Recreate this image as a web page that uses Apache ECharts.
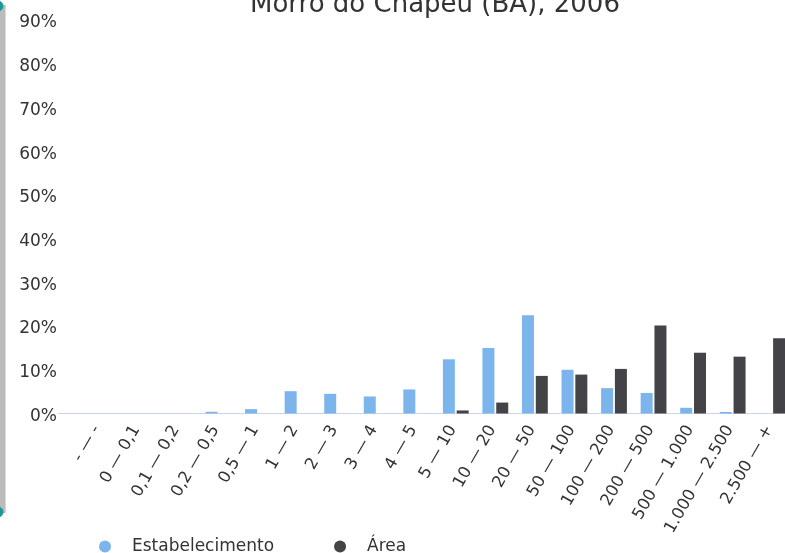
<!DOCTYPE html>
<html>
<head>
<meta charset="utf-8">
<script src="https://cdn.jsdelivr.net/npm/echarts@6/dist/echarts.min.js"></script>
<style>
    html, body { margin: 0; padding: 0; background: #fff; }
    #chart { width: 785px; height: 553px; }
</style>
</head>
<body>
<div id="chart"></div>
<script>
// faixas de area (ha)
const categories = ['- — -', '0 — 0,1', '0,1 — 0,2', '0,2 — 0,5', '0,5 — 1', '1 — 2', '2 — 3', '3 — 4', '4 — 5',
    '5 — 10', '10 — 20', '20 — 50', '50 — 100', '100 — 200', '200 — 500', '500 — 1.000', '1.000 — 2.500', '2.500 — +']

// percentuais
const estabelecimento = [0, 0, 0, 0.4, 1.0, 5.1, 4.5, 3.9, 5.5, 12.4, 15.0, 22.5, 10.0, 5.8, 4.7, 1.3, 0.35, 0]
const area = [0, 0, 0, 0, 0, 0, 0, 0, 0, 0.7, 2.5, 8.6, 8.9, 10.2, 20.1, 13.9, 13.0, 17.2]

const yTicks = { min: 0, max: 90, interval: 10 }

const font = 'DejaVu Sans'
const myChart = echarts.init(document.getElementById('chart'))

const option = {
    animation: false,
    title: {
        text: 'Morro do Chapéu (BA), 2006',
        left: 245,
        top: -13,
        textStyle: { fontFamily: font, fontSize: 26, fontWeight: 'normal', color: '#333' }
    },
    legend: {
        data: ['Estabelecimento', 'Área'],
        left: 94,
        top: 533,
        icon: 'circle',
        itemWidth: 44,
        itemHeight: 12,
        itemGap: 60,
        textStyle: { fontFamily: font, fontSize: 17, color: '#333' }
    },
    grid: [
        { left: 80, right: -7, top: 20, bottom: 139.5, outerBoundsMode: 'none' },
        { left: 58, right: -7, top: 20, bottom: 139.5, outerBoundsMode: 'none' }
    ],
    dataZoom: [{
        type: 'slider',
        yAxisIndex: 0,
        orient: 'vertical',
        left: -10,
        width: 15,
        top: 5,
        bottom: 40,
        filterMode: 'none',
        start: 0,
        end: 100,
        showDetail: false,
        showDataShadow: false,
        brushSelect: false,
        moveHandleSize: 0,
        handleIcon: 'circle',
        handleSize: 10,
        handleStyle: { color: '#1a9a96', borderColor: '#1a9a96' },
        backgroundColor: '#d4d4d4',
        fillerColor: 'rgba(150,150,150,0.4)',
        borderColor: 'transparent'
    }],
    xAxis: [
        {
            type: 'category',
            data: categories,
            axisLine: { show: false },
            axisTick: { show: false },
            axisLabel: {
                rotate: 60,
                margin: 8,
                interval: 0,
                padding: [0, 6, 0, 0],
                fontFamily: font,
                fontSize: 16.5,
                color: '#333'
            }
        },
        {
            // linha do eixo mais longa, como no original
            type: 'value',
            gridIndex: 1,
            axisLine: { show: true, onZero: false, lineStyle: { color: '#ccd6eb', width: 1 } },
            axisTick: { show: false },
            axisLabel: { show: false },
            splitLine: { show: false }
        }
    ],
    yAxis: [
        {
            type: 'value',
            min: yTicks.min,
            max: yTicks.max,
            interval: yTicks.interval,
            axisLine: { show: false },
            axisTick: { show: false },
            splitLine: { show: false },
            axisLabel: {
                formatter: '{v|{value}%}',
                margin: 23,
                rich: {
                    v: { padding: [6, 0, 0, 0], fontFamily: font, fontSize: 17, color: '#333' }
                }
            }
        },
        { type: 'value', gridIndex: 1, show: false }
    ],
    series: [
        {
            name: 'Estabelecimento',
            type: 'bar',
            data: estabelecimento,
            barWidth: 12,
            barGap: '15%',
            itemStyle: { color: '#7cb5ec' }
        },
        {
            name: 'Área',
            type: 'bar',
            data: area,
            barWidth: 12,
            itemStyle: { color: '#434348' }
        }
    ]
}

myChart.setOption(option)
</script>
</body>
</html>
